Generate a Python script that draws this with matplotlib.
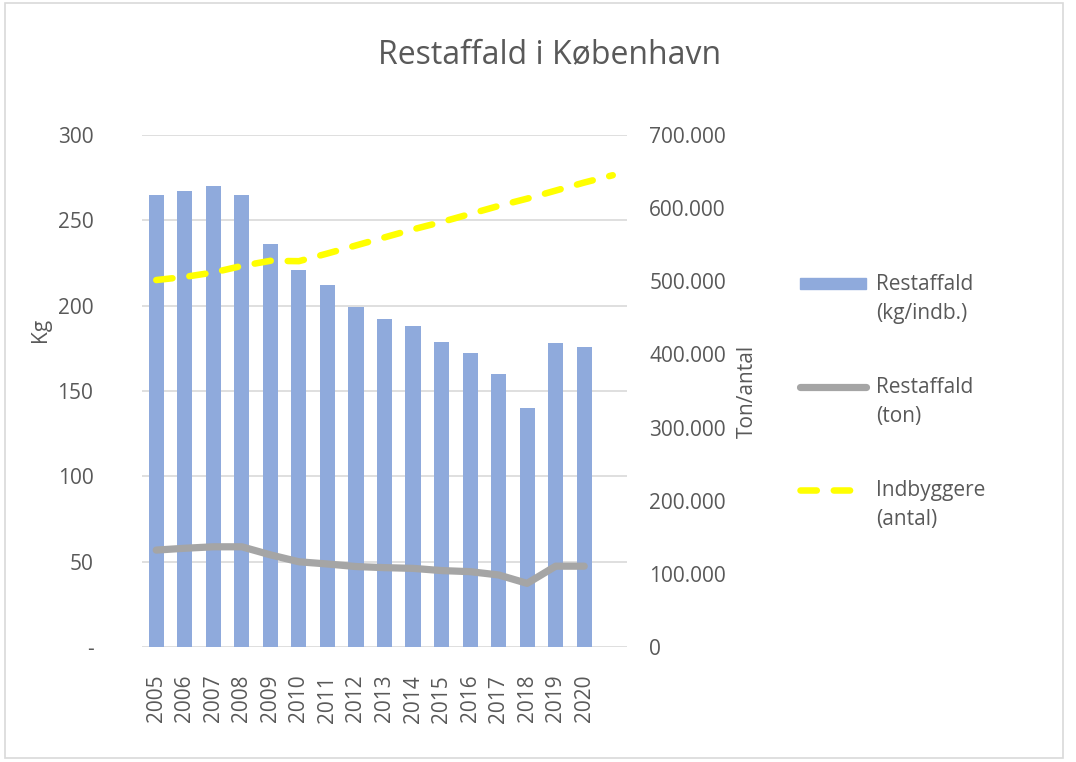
import numpy as np
import matplotlib
matplotlib.use("Agg")
from matplotlib import pyplot as plt
from matplotlib.patches import Rectangle
from matplotlib.lines import Line2D
from matplotlib.ticker import FuncFormatter

plt.rcParams['font.family'] = ['Open Sans', 'DejaVu Sans']

# data
years = ['2005', '2006', '2007', '2008', '2009', '2010', '2011', '2012',
         '2013', '2014', '2015', '2016', '2017', '2018', '2019', '2020']
kg_per_inhab = [265, 267, 270, 265, 236, 221, 212, 199, 192, 188, 179, 172, 160, 140, 178, 176]
restaffald_ton = [132500, 135000, 137000, 137000, 126000, 116500, 113500, 110000,
                  108500, 107500, 104500, 103000, 98500, 87000, 110500, 110500]
# population series has one extra point (the empty 17th category)
indbyggere = [501700, 506000, 512000, 521000, 528000, 527500, 538000, 549000,
              560000, 571000, 581000, 592000, 603000, 613000, 624000, 635000, 645000]
labels = ['Restaffald\n(kg/indb.)', 'Restaffald\n(ton)', 'Indbyggere\n(antal)']

text_col = '#595959'
grid_col = '#d9d9d9'
bar_col = '#8faadc'
ton_col = '#a5a5a5'
pop_col = '#ffff00'
dash = (0, (2.5, 2.6))
W, H = 1076, 762

fig = plt.figure(figsize=(W / 100, H / 100), dpi=100)
ax = fig.add_axes([142 / W, 1 - 647 / H, 485 / W, 512 / H])
ax2 = ax.twinx()

# bars on the primary axis
x = np.arange(len(years))
ax.bar(x, kg_per_inhab, width=0.53, color=bar_col, zorder=2)
ax.set_xlim(-0.5, 16.5)
ax.set_ylim(0, 300)
ax.set_yticks(np.arange(0, 301, 50))
ax.yaxis.set_major_formatter(FuncFormatter(lambda v, p: '-' if v == 0 else f'{v:.0f}'))
ax.set_xticks(x)
ax.set_xticklabels(years, rotation=90)
ax.grid(axis='y', color=grid_col, linewidth=1.2, zorder=0)
ax.set_axisbelow(True)
ax.set_ylabel('Kg', color=text_col, fontsize=15)
ax.yaxis.set_label_coords(-0.187, 0.62)

# lines on the secondary axis
ax2.plot(np.arange(len(restaffald_ton)), restaffald_ton, color=ton_col,
         linewidth=5.2, solid_capstyle='round', solid_joinstyle='round', zorder=3)
ax2.plot(np.arange(len(indbyggere)), indbyggere, color=pop_col, linewidth=4.7,
         linestyle=dash, dash_capstyle='round', zorder=3)
ax2.set_ylim(0, 700000)
ax2.set_yticks(np.arange(0, 700001, 100000))
ax2.yaxis.set_major_formatter(FuncFormatter(lambda v, p: f'{v:,.0f}'.replace(',', '.')))
ax2.set_ylabel('Ton/antal', color=text_col, fontsize=15, labelpad=8)

for a in (ax, ax2):
    for s in a.spines.values():
        s.set_visible(False)
    a.tick_params(length=0, colors=text_col, labelsize=15)
ax.tick_params(axis='y', pad=35)
ax2.tick_params(axis='y', pad=16)
ax.tick_params(axis='x', pad=20)

fig.text(550 / W, 1 - 63 / H, 'Restaffald i København', ha='center', va='baseline',
         fontsize=23, color=text_col)

# legend drawn by hand so the key sits next to the first line of each label
fig.add_artist(Rectangle((800 / W, 1 - 289 / H), 66 / W, 11 / H, color=bar_col,
                         transform=fig.transFigure))
fig.add_artist(Line2D([800 / W, 866 / W], [1 - 387 / H] * 2, color=ton_col, linewidth=5.2,
                      solid_capstyle='round', transform=fig.transFigure))
fig.add_artist(Line2D([800 / W, 866 / W], [1 - 490 / H] * 2, color=pop_col, linewidth=4.7,
                      linestyle=dash, dash_capstyle='round', transform=fig.transFigure))
for lab, yc in zip(labels, [299, 402, 505]):
    fig.text(876 / W, 1 - yc / H, lab, ha='left', va='center', fontsize=15,
             color=text_col, linespacing=1.5)

# light outer border like the original chart frame
fig.add_artist(Rectangle((5 / W, 4 / H), 1058 / W, 755 / H, transform=fig.transFigure,
                         fill=False, edgecolor='#d9d9d9', linewidth=1.2))

fig.savefig('out.png', dpi=100)
